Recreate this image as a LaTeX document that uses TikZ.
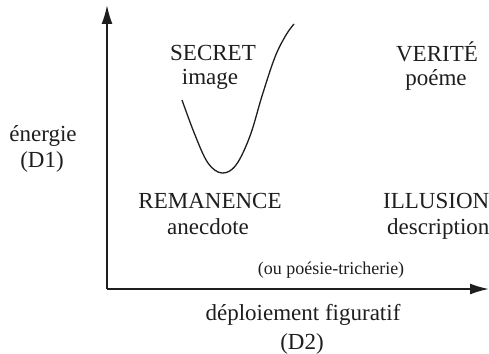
\documentclass[tikz,border=0pt]{standalone}
\usepackage{fontspec}
\setmainfont{Liberation Serif}
\usetikzlibrary{arrows.meta}
\definecolor{ink}{HTML}{1E1E1E}
\begin{document}
\begin{tikzpicture}[x=1pt,y=-1pt,
  lbl/.style={inner sep=0pt, anchor=base, text=ink, font=\fontsize{23}{26}\selectfont},
  small/.style={inner sep=0pt, anchor=base, text=ink, font=\fontsize{18}{20}\selectfont},
  axis/.style={draw=ink, line width=1.8pt, -{Latex[length=19pt,width=11pt]}}]
\useasboundingbox (0,0) rectangle (489,353);
% axes
\coordinate (O) at (107,289);
\coordinate (Ytop) at (107,5);
\coordinate (Xend) at (489,289);
\draw[axis] (O) -- (Ytop);
\draw[axis] (O) -- (Xend);
% axis labels
\node[lbl] (en) at (43,141) {énergie};
\node[lbl] (d1) at (42,167) {(D1)};
\node[lbl] (dep) at (303,320) {déploiement figuratif};
\node[lbl] (d2) at (302,349) {(D2)};
% quadrant labels
\node[lbl] (sec) at (213,60) {SECRET};
\node[lbl] (img) at (210,84) {image};
\node[lbl] (ver) at (437,61) {VERITÉ};
\node[lbl] (poe) at (436,85) {poéme};
\node[lbl] (rem) at (210,208) {REMANENCE};
\node[lbl] (ane) at (208,234) {anecdote};
\node[lbl, anchor=base west] (ill) at (383,208) {ILLUSION};
\node[lbl, anchor=base west] (des) at (387,234) {description};
\node[small] (tri) at (331,274) {(ou poésie-tricherie)};
% curve
\draw[ink, line width=1.3pt] plot[smooth, tension=0.6] coordinates
  {(182,100) (195,135) (208,163) (222,173) (236,165) (250,136) (262,96) (275,57) (286,35) (294,24)};
\end{tikzpicture}
\end{document}
